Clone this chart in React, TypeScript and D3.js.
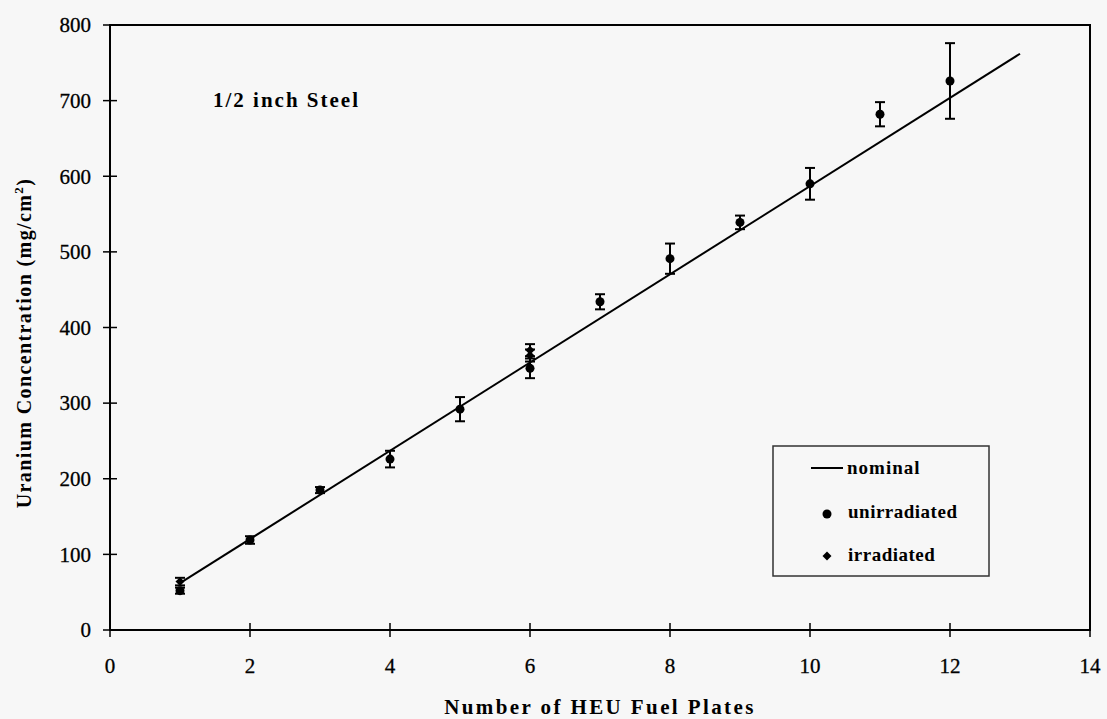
import * as d3 from 'd3';
import React from 'react';

// values
const plates = [1, 2, 3, 4, 5, 6, 7, 8, 9, 10, 11, 12];
const unirradiated = [52, 119, 185, 226, 292, 346, 434, 491, 539, 590, 682, 726];
const unirradiatedErr = [4, 5, 4, 11, 16, 13, 10, 20, 9, 21, 16, 50];

const irradiatedPlates = [1, 6, 6];
const irradiated = [64, 370, 363];
const irradiatedErr = [5, 8, 8];

const nominalPlates = [1, 13];
const nominalValues = [62, 762];

const xTicks = [0, 2, 4, 6, 8, 10, 12, 14];
const yTicks = [0, 100, 200, 300, 400, 500, 600, 700, 800];

const W = 1107;
const H = 719;
const m = { left: 110, right: 1090, top: 25, bottom: 630 };

export default function App() {
  const x = d3.scaleLinear().domain([0, 14]).range([m.left, m.right]);
  const y = d3.scaleLinear().domain([0, 800]).range([m.bottom, m.top]);

  const nominal = d3.line<number>()
    .x((d, i) => x(d))
    .y((d, i) => y(nominalValues[i]));

  const font = '"Liberation Serif", "Times New Roman", serif';
  const cap = 5;

  const errBar = (px: number, v: number, e: number, key: string) => (
    <g key={key} stroke="#000" strokeWidth={2}>
      <line x1={x(px)} x2={x(px)} y1={y(v - e)} y2={y(v + e)} />
      <line x1={x(px) - cap} x2={x(px) + cap} y1={y(v - e)} y2={y(v - e)} />
      <line x1={x(px) - cap} x2={x(px) + cap} y1={y(v + e)} y2={y(v + e)} />
    </g>
  );

  // square turned 45 degrees, like the Excel diamond marker
  const diamond = d3.symbol().type(d3.symbolSquare).size(40)();

  return (
    <svg width={W} height={H} style={{ position: 'absolute', left: 0, top: 0 }} fontFamily={font}>
      <rect width={W} height={H} fill="#f7f7f7" />

      {/* frame */}
      <rect x={m.left} y={m.top} width={m.right - m.left} height={m.bottom - m.top}
        fill="none" stroke="#000" strokeWidth={2} />

      {/* y axis */}
      {yTicks.map(t => (
        <g key={'y' + t}>
          <line x1={m.left - 7} x2={m.left + 7} y1={y(t)} y2={y(t)} stroke="#000" strokeWidth={1.5} />
          <text x={91} y={y(t)} dy="0.35em" textAnchor="end" fontSize={21} stroke="#000" strokeWidth={0.3}>{t}</text>
        </g>
      ))}

      {/* x axis */}
      {xTicks.map(t => (
        <g key={'x' + t}>
          <line x1={x(t)} x2={x(t)} y1={m.bottom - 7} y2={m.bottom + 7} stroke="#000" strokeWidth={1.5} />
          <text x={x(t)} y={673} textAnchor="middle" fontSize={21} stroke="#000" strokeWidth={0.3}>{t}</text>
        </g>
      ))}

      <text x={600} y={714} textAnchor="middle" fontSize={21} fontWeight="bold" letterSpacing={2.4}>
        Number of HEU Fuel Plates
      </text>

      <text transform="translate(31,343) rotate(-90)" textAnchor="middle" fontSize={20}
        fontWeight="bold" letterSpacing={1.4}>
        Uranium Concentration (mg/cm<tspan dy={-8} fontSize={13}>2</tspan><tspan dy={8}>)</tspan>
      </text>

      <text x={213} y={107} fontSize={21} fontWeight="bold" letterSpacing={2}>1/2 inch Steel</text>

      {/* nominal line */}
      <path d={nominal(nominalPlates) || ''} fill="none" stroke="#000" strokeWidth={2} />

      {/* error bars */}
      {plates.map((p, i) => errBar(p, unirradiated[i], unirradiatedErr[i], 'eu' + i))}
      {irradiatedPlates.map((p, i) => errBar(p, irradiated[i], irradiatedErr[i], 'ei' + i))}

      {/* markers */}
      {plates.map((p, i) => (
        <circle key={'u' + i} cx={x(p)} cy={y(unirradiated[i])} r={4.5} fill="#000" />
      ))}
      {irradiatedPlates.map((p, i) => (
        <path key={'i' + i} d={diamond || ''} transform={`translate(${x(p)},${y(irradiated[i])}) rotate(45)`} fill="#000" />
      ))}

      {/* legend */}
      <rect x={773} y={446} width={216} height={130} fill="none" stroke="#333" strokeWidth={1.5} />
      <line x1={811} x2={843} y1={468} y2={468} stroke="#000" strokeWidth={2} />
      <text x={847} y={474} fontSize={19} fontWeight="bold" letterSpacing={1}>nominal</text>
      <circle cx={827} cy={514} r={4.5} fill="#000" />
      <text x={848} y={518} fontSize={19} fontWeight="bold" letterSpacing={0.5}>unirradiated</text>
      <path d={diamond || ''} transform="translate(827,556) rotate(45)" fill="#000" />
      <text x={848} y={561} fontSize={19} fontWeight="bold" letterSpacing={0.5}>irradiated</text>
    </svg>
  );
}
